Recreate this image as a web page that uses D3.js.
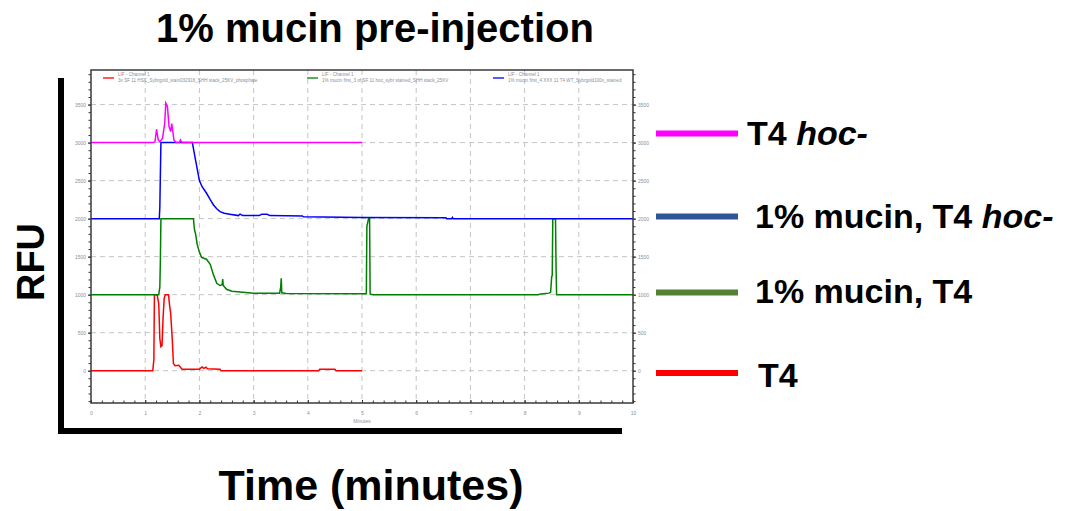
<!DOCTYPE html>
<html>
<head>
<meta charset="utf-8">
<script src="https://cdn.jsdelivr.net/npm/d3@7"></script>
<style>
  body { margin: 0; background: #fff; }
  .big { font-family: "Liberation Sans", Arial, sans-serif; font-weight: bold; fill: #000; }
  .tiny { font-family: "Liberation Sans", Arial, sans-serif; fill: #8a8f99; }
</style>
</head>
<body>
<div id="chart"></div>
<script>
// ---- data (minutes, displayed RFU incl. stack offset) ----
var t4HocTime  = [0, 1.15, 1.18, 1.21, 1.24, 1.27, 1.32, 1.36, 1.38, 1.41, 1.44, 1.47, 1.49, 1.53, 1.57, 1.63, 1.65, 1.68, 5];
var t4HocValue = [3000, 3000, 3010, 3176, 3036, 3010, 3058, 3255, 3518, 3474, 3211, 3145, 3250, 3036, 3000, 3000, 3036, 3000, 3000];

var mucHocTime  = [0, 1.26, 1.27, 1.29, 1.87, 1.9, 1.95, 2.0, 2.05, 2.13, 2.2, 2.26, 2.32, 2.38, 2.46, 2.56, 2.72, 2.75, 2.8, 3.1, 3.15, 3.25, 3.3, 3.9, 3.92, 5, 6.55, 6.56, 6.65, 6.67, 6.68, 10];
var mucHocValue = [2000, 2000, 2150, 3000, 3000, 2880, 2690, 2500, 2420, 2337, 2250, 2180, 2130, 2092, 2070, 2058, 2040, 2060, 2040, 2040, 2058, 2058, 2040, 2036, 2025, 2015, 2012, 1998, 1998, 2015, 2000, 1998];

var mucT4Time  = [0, 1.25, 1.27, 1.28, 1.29, 1.89, 1.91, 1.93, 1.96, 2.0, 2.04, 2.13, 2.2, 2.26, 2.32, 2.38, 2.42, 2.43, 2.44, 2.5, 2.6, 2.75, 3.0, 3.48, 3.5, 3.51, 3.52, 3.6, 5.08, 5.09, 5.12, 5.14, 5.15, 5.2, 8.25, 8.3, 8.45, 8.48, 8.5, 8.51, 8.52, 8.57, 8.58, 8.59, 10];
var mucT4Value = [1000, 1000, 1100, 1450, 2000, 2000, 1850, 1800, 1660, 1560, 1490, 1466, 1400, 1260, 1150, 1120, 1130, 1205, 1120, 1071, 1045, 1036, 1018, 1020, 1100, 1216, 1025, 1015, 1012, 1900, 2000, 2000, 1010, 1000, 1000, 1010, 1020, 1030, 1240, 1250, 2000, 2000, 1390, 1000, 1000];

var t4Time  = [0, 1.14, 1.16, 1.17, 1.22, 1.23, 1.25, 1.27, 1.29, 1.31, 1.33, 1.35, 1.37, 1.43, 1.45, 1.47, 1.5, 1.52, 1.55, 1.62, 1.68, 2.0, 2.05, 2.08, 2.12, 2.15, 2.38, 2.4, 4.2, 4.22, 4.5, 4.52, 5];
var t4Value = [0, 0, 150, 1000, 1000, 960, 880, 420, 316, 330, 700, 950, 1000, 1000, 860, 755, 404, 97, 66, 70, 18, 20, 50, 30, 45, 25, 20, 0, 0, 18, 18, 0, 0];

var yTicks = [0, 500, 1000, 1500, 2000, 2500, 3000, 3500];
var xTicks = [0, 1, 2, 3, 4, 5, 6, 7, 8, 9, 10];

var runNames = [
  "3x SF 11 HSC_Sybrgold_stain032916_SHH stack_25KV_phosphate",
  "1% mucin first_3 of SF 11 hoc_sybr stained_SHH stack_25KV",
  "1% mucin first_4 XXX 11 T4 WT_Sybrgold100x_stained"
];
var legendLabels = [["T4 ", "hoc-"], ["1% mucin, T4 ", "hoc-"], ["1% mucin, T4", ""], ["T4", ""]];

var svgWidth = 1070;
var svgHeight = 511;

var svg = d3.select("#chart")
  .append("svg")
  .attr("width", svgWidth)
  .attr("height", svgHeight);

svg.append("rect").attr("width", svgWidth).attr("height", svgHeight).attr("fill", "#fff");

// inner plot box (the exported instrument chart)
var plot = { left: 91, right: 633, top: 70, bottom: 403 };

var x = d3.scaleLinear().domain([0, 10]).range([plot.left, plot.right]);
var y = d3.scaleLinear().domain([-425, 3955]).range([plot.bottom, plot.top]);

// dashed grid
svg.append("g").selectAll("line")
  .data(xTicks.slice(1, -1))
  .enter().append("line")
  .attr("x1", d => x(d)).attr("x2", d => x(d))
  .attr("y1", plot.top).attr("y2", plot.bottom)
  .attr("stroke", "#c4c4c4").attr("stroke-dasharray", "5,4");

svg.append("g").selectAll("line")
  .data(yTicks)
  .enter().append("line")
  .attr("x1", plot.left).attr("x2", plot.right)
  .attr("y1", d => y(d)).attr("y2", d => y(d))
  .attr("stroke", "#c4c4c4").attr("stroke-dasharray", "5,4");

// traces
var line = d3.line().x(d => x(d[0])).y(d => y(d[1]));
var traces = [
  { t: t4Time, v: t4Value, color: "#ff0000" },
  { t: mucT4Time, v: mucT4Value, color: "#008000" },
  { t: mucHocTime, v: mucHocValue, color: "#0000ff" },
  { t: t4HocTime, v: t4HocValue, color: "#ff00ff" }
];
traces.forEach(function(s) {
  svg.append("path")
    .datum(d3.zip(s.t, s.v))
    .attr("d", line)
    .attr("fill", "none")
    .attr("stroke", s.color)
    .attr("stroke-width", 1.5);
});

// axes with minor ticks
function styleAxis(g) {
  g.select(".domain").remove();
  g.selectAll("line").attr("stroke", "#333");
  g.selectAll("text").attr("class", "tiny").attr("font-size", "5px").attr("fill", "#8a8f99");
}
var minorX = d3.range(0, 10.001, 0.2);
var minorY = d3.range(-400, 3901, 100);

svg.append("g").attr("transform", `translate(0,${plot.bottom})`)
  .call(d3.axisBottom(x).tickValues(minorX).tickSize(-2.5).tickFormat(""))
  .call(styleAxis);
svg.append("g").attr("transform", `translate(0,${plot.bottom})`)
  .call(d3.axisBottom(x).tickValues(xTicks).tickSize(-3).tickPadding(8).tickFormat(d3.format("d")))
  .call(styleAxis);

svg.append("g").attr("transform", `translate(${plot.left},0)`)
  .call(d3.axisLeft(y).tickValues(minorY).tickSize(2.5).tickFormat(""))
  .call(styleAxis);
svg.append("g").attr("transform", `translate(${plot.left},0)`)
  .call(d3.axisLeft(y).tickValues(yTicks).tickSize(3).tickPadding(2).tickFormat(d3.format("d")))
  .call(styleAxis);

svg.append("g").attr("transform", `translate(${plot.right},0)`)
  .call(d3.axisRight(y).tickValues(minorY).tickSize(2.5).tickFormat(""))
  .call(styleAxis);
svg.append("g").attr("transform", `translate(${plot.right},0)`)
  .call(d3.axisRight(y).tickValues(yTicks).tickSize(3).tickPadding(2).tickFormat(d3.format("d")))
  .call(styleAxis);

svg.append("text").attr("class", "tiny")
  .attr("x", (plot.left + plot.right) / 2).attr("y", 423)
  .attr("text-anchor", "middle").attr("font-size", "5px")
  .text("Minutes");

// plot frame
svg.append("rect")
  .attr("x", plot.left).attr("y", plot.top)
  .attr("width", plot.right - plot.left).attr("height", plot.bottom - plot.top)
  .attr("fill", "none").attr("stroke", "#3a3a3a").attr("stroke-width", 1.5);

// small run legend inside the plot
var runColors = ["#ff0000", "#008000", "#0000ff"];
var runX = [103, 307, 493];
runNames.forEach(function(name, i) {
  var g = svg.append("g").attr("transform", `translate(${runX[i]},0)`);
  g.append("line").attr("x1", 0).attr("x2", 11).attr("y1", 78).attr("y2", 78)
    .attr("stroke", runColors[i]).attr("stroke-width", 1.3);
  g.append("text").attr("class", "tiny").attr("x", 15).attr("y", 76)
    .attr("font-size", "4.6px").attr("fill", "#666").text("LIF - Channel 1");
  g.append("text").attr("class", "tiny").attr("x", 15).attr("y", 82)
    .attr("font-size", "4.6px").attr("fill", "#666").text(name);
});

// thick hand-drawn axes around the whole thing
svg.append("rect").attr("x", 58).attr("y", 78).attr("width", 6).attr("height", 356).attr("fill", "#000");
svg.append("rect").attr("x", 58).attr("y", 428).attr("width", 564).attr("height", 6).attr("fill", "#000");

// titles
svg.append("text").attr("class", "big")
  .attr("x", 375).attr("y", 42).attr("text-anchor", "middle")
  .attr("font-size", "40px")
  .text("1% mucin pre-injection");

svg.append("text").attr("class", "big")
  .attr("transform", "translate(44,262)rotate(-90)")
  .attr("text-anchor", "middle")
  .attr("font-size", "38px")
  .text("RFU");

svg.append("text").attr("class", "big")
  .attr("x", 371).attr("y", 500).attr("text-anchor", "middle")
  .attr("font-size", "43px")
  .text("Time (minutes)");

// big legend on the right
var legendColors = ["#ff00ff", "#2f5597", "#548235", "#ff0000"];
var legendY = [133.5, 216.5, 292.5, 373];
var legendTextX = [747, 755, 755, 758];
var legendBase = [145, 228, 303, 387];

legendLabels.forEach(function(lab, i) {
  svg.append("rect")
    .attr("x", 656).attr("y", legendY[i] - 3)
    .attr("width", 82).attr("height", 6)
    .attr("fill", legendColors[i]);
  var txt = svg.append("text").attr("class", "big")
    .attr("x", legendTextX[i]).attr("y", legendBase[i])
    .attr("font-size", "34px");
  txt.append("tspan").text(lab[0]);
  if (lab[1]) txt.append("tspan").attr("font-style", "italic").text(lab[1]);
});
</script>
</body>
</html>
